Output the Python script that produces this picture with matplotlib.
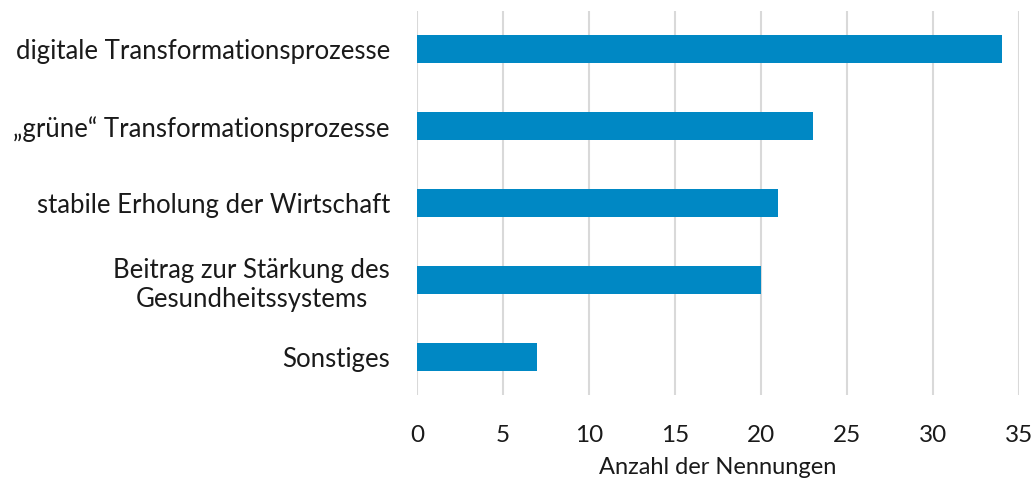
import matplotlib
matplotlib.use('Agg')
from matplotlib import pyplot as plt

categories = [
    "digitale Transformationsprozesse",
    "\u201egr\u00fcne\u201c Transformationsprozesse",
    "stabile Erholung der Wirtschaft",
    "Beitrag zur St\u00e4rkung des\nGesundheitssystems",
    "Sonstiges",
]
counts = [34, 23, 21, 20, 7]
xticks = [0, 5, 10, 15, 20, 25, 30, 35]

plt.rcParams['font.family'] = ['Lato', 'DejaVu Sans']

fig = plt.figure(figsize=(10.36, 4.87), dpi=100)
ax = fig.add_axes([0.4025, 0.188, 0.5811, 0.79])

pos = list(range(len(categories)))
ax.barh(pos, counts, height=0.37, color='#0088C4', zorder=3)
ax.set_yticks(pos)
ax.set_yticklabels(categories, fontsize=18.5, ha='right', multialignment='center',
                   color='#1a1a1a')
ax.set_ylim(len(categories) - 0.5, -0.5)

ax.set_xlim(0, 35)
ax.set_xticks(xticks)
ax.set_xticklabels([str(t) for t in xticks], fontsize=17.5, color='#1a1a1a')
ax.grid(axis='x', color='#D9D9D9', linewidth=1.5, zorder=0)
ax.tick_params(length=0)
ax.tick_params(axis='x', pad=21)
ax.tick_params(axis='y', pad=19.5)
for s in ax.spines.values():
    s.set_visible(False)
ax.set_xlabel("Anzahl der Nennungen", fontsize=17, labelpad=8, color='#1a1a1a')

fig.savefig('out.png', dpi=100)
